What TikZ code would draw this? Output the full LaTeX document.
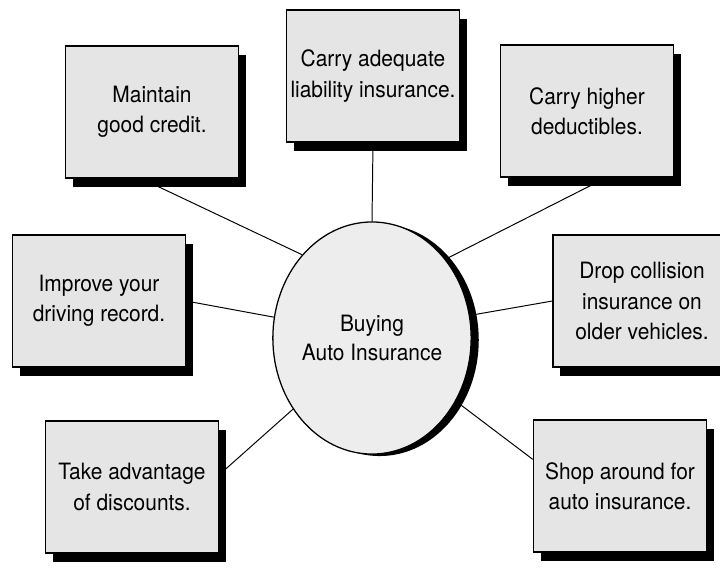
\documentclass[tikz,border=0pt]{standalone}
\usepackage{fontspec}
\setmainfont{TeX Gyre Heros}[FakeStretch=0.93]
\usepackage{tikz}
\usetikzlibrary{shapes.geometric,shadows}

\begin{document}
\begin{tikzpicture}[
  x=0.025cm,y=-0.025cm,
  tip/.style={draw=black,line width=0.9pt,fill=black!10,align=center,
              minimum width=4.33cm,minimum height=3.3cm,inner sep=2pt,
              font=\fontsize{16}{21.5}\selectfont,
              drop shadow={shadow xshift=0.18cm,shadow yshift=-0.22cm,
                           fill=black,opacity=1}},
  hub/.style={ellipse,draw=black,line width=0.9pt,fill=black!7,align=center,
              minimum width=4.9cm,minimum height=5.8cm,inner sep=0pt,
              font=\fontsize{16}{20.5}\selectfont,
              drop shadow={shadow xshift=0.19cm,shadow yshift=-0.05cm,
                           fill=black,opacity=1}},
  link/.style={draw=black,line width=0.7pt}
]
\useasboundingbox (0,0) rectangle (720,581);
\clip (0,0) rectangle (720,581);

\node[hub] (buying) at (372,338) {Buying\\Auto Insurance};

\node[tip] (credit) at (152,112) {Maintain\\good credit.};
\node[tip] (liability) at (373,76) {Carry adequate\\liability insurance.};
\node[tip] (deductibles) at (587,111) {Carry higher\\deductibles.};
\node[tip] (driving) at (99,301) {Improve your\\driving record.};
\node[tip,minimum width=4.45cm] (collision) at (642,301) {Drop collision\\insurance on\\older vehicles.};
\node[tip] (discounts) at (132,487) {Take advantage\\of discounts.};
\node[tip] (shop) at (620,486) {Shop around for\\auto insurance.};

\draw[link] (buying.130) -- (credit.261);
\draw[link] (buying.north) -- (liability.south);
\draw[link] (buying.47) -- (deductibles.286);
\draw[link] (buying.168) -- (driving.east);
\draw[link] (buying.13) -- (collision.west);
\draw[link] (buying.222) -- (discounts.8);
\draw[link] (buying.323) -- (shop.163);
\end{tikzpicture}
\end{document}
